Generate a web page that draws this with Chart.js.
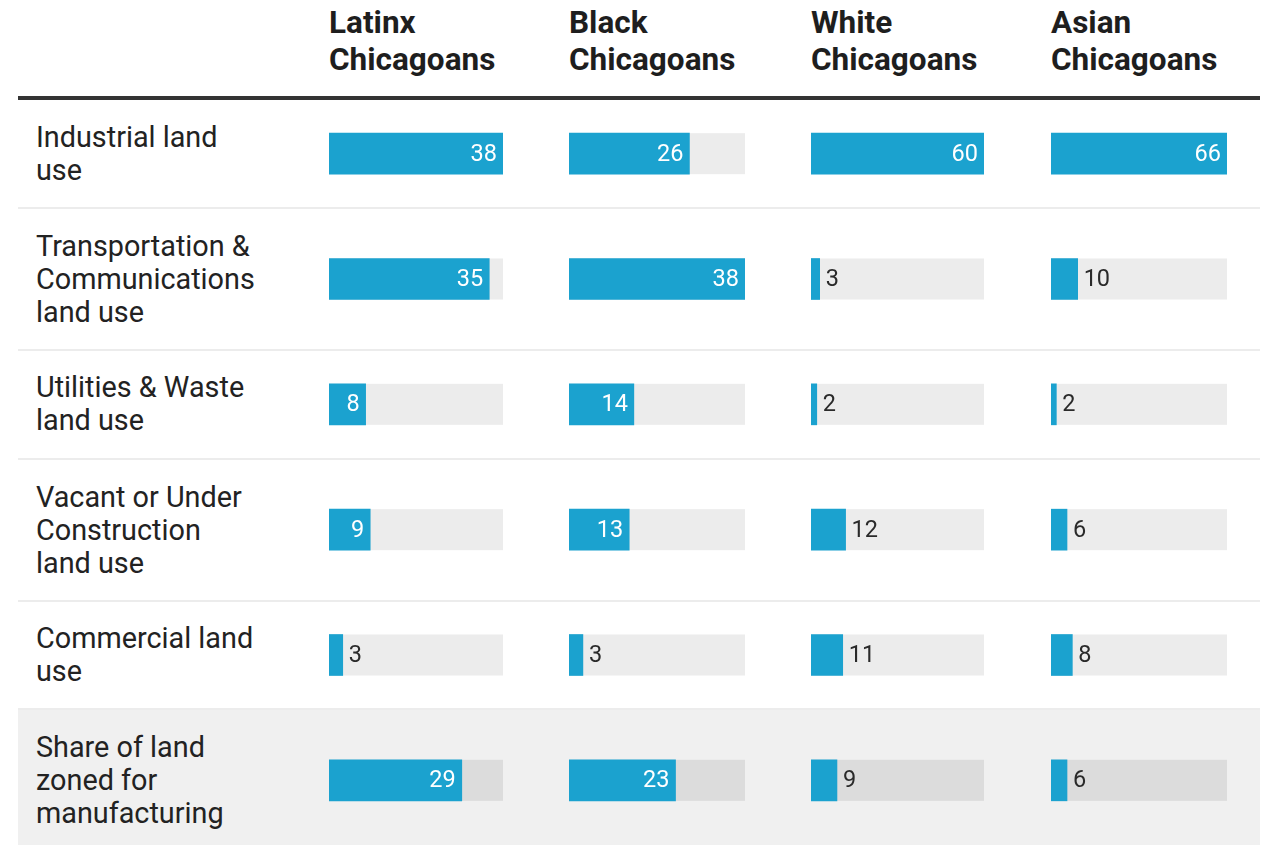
<!DOCTYPE html>
<html>
<head>
<meta charset="utf-8">
<script src="https://cdn.jsdelivr.net/npm/chart.js@4.4.1/dist/chart.umd.min.js"></script>
<style>
  html, body { margin: 0; padding: 0; background: #fff; }
  body { width: 1265px; height: 845px; position: relative; overflow: hidden; font-family: Roboto, "Noto Sans", sans-serif; color: #222; }
  .head { position: absolute; top: 4px; font-weight: 700; font-size: 31.5px; line-height: 37px; color: #1e1e1e; }
  .rule { position: absolute; left: 18px; width: 1242px; }
  .rule.thick { top: 96px; height: 4px; background: #333; }
  .rule.thin { height: 2px; background: #ececec; }
  .shade { position: absolute; left: 18px; width: 1242px; background: #f0f0f0; }
  .rowlabel { position: absolute; left: 36px; font-size: 28.8px; line-height: 33px; color: #222; transform: translateY(-50%); white-space: nowrap; }
  canvas.col { position: absolute; top: 91px; }
</style>
</head>
<body>
<script>
// Row categories (one line per entry as set in the table)
const rows = [
  ["Industrial land", "use"],
  ["Transportation &", "Communications", "land use"],
  ["Utilities & Waste", "land use"],
  ["Vacant or Under", "Construction", "land use"],
  ["Commercial land", "use"],
  ["Share of land", "zoned for", "manufacturing"]
];

// Column headers
const groups = [
  ["Latinx", "Chicagoans"],
  ["Black", "Chicagoans"],
  ["White", "Chicagoans"],
  ["Asian", "Chicagoans"]
];

// Values per group, in row order
const latinx = [38, 35, 8, 9, 3, 29];
const black  = [26, 38, 14, 13, 3, 23];
const white  = [60, 3, 2, 12, 11, 9];
const asian  = [66, 10, 2, 6, 8, 6];

const series = [latinx, black, white, asian];

const colLeft = [329, 569, 811, 1051];
const colWidth = [174, 176, 173, 176];
const BLUE = "#1ba2cf";

// shaded last row goes in first so everything else sits on top
const shade = document.createElement("div");
shade.className = "shade";
document.body.appendChild(shade);

const thick = document.createElement("div");
thick.className = "rule thick";
document.body.appendChild(thick);

groups.forEach((g, i) => {
  const d = document.createElement("div");
  d.className = "head";
  d.style.left = colLeft[i] + "px";
  d.innerHTML = g.join("<br>");
  document.body.appendChild(d);
});

// grey track behind each bar, full width of the column
const trackPlugin = {
  id: "track",
  beforeDatasetsDraw(chart) {
    const ctx = chart.ctx;
    const area = chart.chartArea;
    const meta = chart.getDatasetMeta(0);
    ctx.save();
    meta.data.forEach((bar, i) => {
      ctx.fillStyle = i === rows.length - 1 ? "#dcdcdc" : "#ececec";
      ctx.fillRect(area.left, bar.y - bar.height / 2, area.right - area.left, bar.height);
    });
    ctx.restore();
  }
};

// value labels: inside the bar when there is room, otherwise just past its end
const valuePlugin = {
  id: "values",
  afterDatasetsDraw(chart) {
    const ctx = chart.ctx;
    const meta = chart.getDatasetMeta(0);
    const vals = chart.data.datasets[0].data;
    ctx.save();
    ctx.font = "400 23.5px Roboto";
    ctx.textBaseline = "middle";
    meta.data.forEach((bar, i) => {
      const txt = String(vals[i]);
      const tw = ctx.measureText(txt).width;
      const w = bar.x - bar.base;
      if (w >= tw + 16) {
        ctx.fillStyle = "#ffffff";
        ctx.textAlign = "right";
        ctx.fillText(txt, bar.x - 6, bar.y + 1);
      } else {
        ctx.fillStyle = "#2a2a2a";
        ctx.textAlign = "left";
        ctx.fillText(txt, bar.x + 6, bar.y + 1);
      }
    });
    ctx.restore();
  }
};

const charts = series.map((vals, i) => {
  const cv = document.createElement("canvas");
  cv.className = "col";
  cv.width = colWidth[i];
  cv.height = 752;
  cv.style.left = colLeft[i] + "px";
  document.body.appendChild(cv);
  return new Chart(cv, {
    type: "bar",
    data: {
      labels: rows.map(r => r.join(" ")),
      datasets: [{
        data: vals,
        backgroundColor: BLUE,
        barThickness: 41,
        borderWidth: 0
      }]
    },
    options: {
      indexAxis: "y",
      responsive: false,
      animation: false,
      devicePixelRatio: 1,
      layout: { padding: 0 },
      scales: {
        x: { display: false, min: 0, max: Math.max(...vals) },
        y: { display: false }
      },
      plugins: { legend: { display: false }, tooltip: { enabled: false } }
    },
    plugins: [trackPlugin, valuePlugin]
  });
});

// row labels centred on the bars of each category
const yScale = charts[0].scales.y;
const labelEls = rows.map((r, i) => {
  const d = document.createElement("div");
  d.className = "rowlabel";
  d.style.top = (91 + yScale.getPixelForValue(i)) + "px";
  d.innerHTML = r.join("<br>");
  document.body.appendChild(d);
  return d;
});

// thin separators halfway between neighbouring labels
const boxes = labelEls.map(el => el.getBoundingClientRect());
for (let i = 0; i < boxes.length - 1; i++) {
  const mid = Math.round((boxes[i].bottom + boxes[i + 1].top) / 2);
  const line = document.createElement("div");
  line.className = "rule thin";
  line.style.top = (mid - 1) + "px";
  document.body.appendChild(line);
  if (i === boxes.length - 2) {
    shade.style.top = mid + "px";
    shade.style.height = (845 - mid) + "px";
  }
}
</script>
</body>
</html>
